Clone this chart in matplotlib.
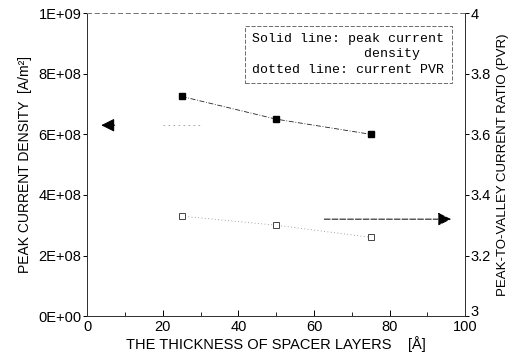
import matplotlib
matplotlib.use("Agg")
import matplotlib.pyplot as plt
from matplotlib.ticker import MultipleLocator

thickness = [25, 50, 75]
peak_current = [7.25e8, 6.5e8, 6.0e8]
pvr = [3.33, 3.30, 3.26]
left_ticks = [0, 2e8, 4e8, 6e8, 8e8, 1e9]
left_labels = ["0E+00", "2E+08", "4E+08", "6E+08", "8E+08", "1E+09"]
right_ticks = [3, 3.2, 3.4, 3.6, 3.8, 4]
right_labels = ["3", "3.2", "3.4", "3.6", "3.8", "4"]
x_ticks = [0, 20, 40, 60, 80, 100]

plt.rcParams['font.family'] = ['Liberation Sans', 'DejaVu Sans']
fig = plt.figure(figsize=(5.25, 3.54), dpi=100)
ax = fig.add_axes([0.166, 0.107, 0.72, 0.856])
ax2 = ax.twinx()

ax.plot(thickness, peak_current, color='#222222', lw=0.6, ls=(0, (6, 2, 1, 2)),
        marker='s', ms=5, mfc='black', mec='black')
ax2.plot(thickness, pvr, color='#888888', lw=0.6, ls=(0, (1, 3)),
         marker='s', ms=4.5, mfc='white', mec='#444444', mew=0.7)

ax.set_xlim(0, 100)
ax.set_ylim(0, 1e9)
ax2.set_ylim(3, 4)
ax.set_xticks(x_ticks)
ax.xaxis.set_minor_locator(MultipleLocator(10))
ax.set_yticks(left_ticks)
ax.set_yticklabels(left_labels)
ax2.set_yticks(right_ticks)
ax2.set_yticklabels(right_labels)
ax2.get_yticklabels()[0].set_va('baseline')

for a in (ax, ax2):
    for s in a.spines.values():
        s.set_linewidth(0.7)
        s.set_color('#333333')
for a in (ax, ax2):
    a.spines['top'].set_linestyle((0, (4, 4)))
    a.spines['top'].set_color('#777777')

ax.tick_params(axis='x', which='major', labelsize=10.5, length=4, width=0.7, direction='in', pad=3)
ax.tick_params(axis='x', which='minor', length=3, width=0.6, direction='in')
ax.tick_params(axis='y', labelsize=10.5, length=3, width=0.7, direction='out', pad=1)
ax2.tick_params(axis='y', labelsize=10.5, length=3, width=0.7, direction='out', pad=1)

ax.set_xlabel("THE THICKNESS OF SPACER LAYERS    [Å]", fontsize=10.5, labelpad=1)
ax.set_ylabel("PEAK CURRENT DENSITY  [A/m²]", fontsize=10, labelpad=5)
ax2.set_ylabel("PEAK-TO-VALLEY CURRENT RATIO (PVR)", fontsize=9.5, labelpad=4)

# direction arrows
ax.annotate("", xy=(3, 6.3e8), xytext=(8, 6.3e8),
            arrowprops=dict(arrowstyle='-|>', color='black', lw=0.8, mutation_scale=20))
ax.plot([20, 30], [6.3e8, 6.3e8], color='#999999', lw=0.6, ls=(0, (2, 4)))
ax.annotate("", xy=(97, 3.2e8), xytext=(62, 3.2e8),
            arrowprops=dict(arrowstyle='-|>', color='black', lw=0.7, ls=(0, (6, 2)),
                            mutation_scale=20))

ax.text(0.437, 0.935, "Solid line: peak current\n              density\ndotted line: current PVR",
        transform=ax.transAxes, fontsize=9.5, family='Liberation Mono', va='top', ha='left',
        linespacing=1.4,
        bbox=dict(boxstyle='square,pad=0.55', fc='white', ec='#555555', lw=0.6, ls=(0, (5, 2))))

fig.savefig("out.png", dpi=100)
